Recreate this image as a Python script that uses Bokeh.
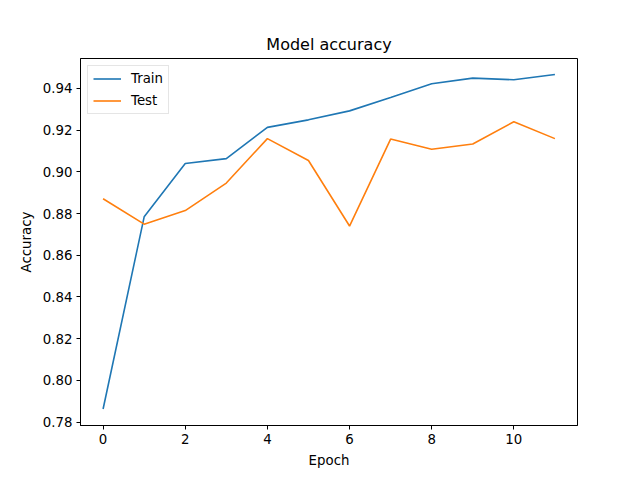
from bokeh.plotting import figure
from bokeh.models import Range1d, FixedTicker, Legend, LegendItem, NumeralTickFormatter
from bokeh.embed import file_html
from bokeh.resources import INLINE

epochs = list(range(12))
train_acc = [0.7863, 0.8784, 0.9040, 0.9063, 0.9213, 0.9249, 0.9292, 0.9356, 0.9422, 0.9449, 0.9441, 0.9466]
test_acc = [0.8871, 0.8749, 0.8814, 0.8946, 0.9159, 0.9054, 0.8740, 0.9157, 0.9108, 0.9133, 0.9240, 0.9159]
x_ticks = [0, 2, 4, 6, 8, 10]
y_ticks = [0.78, 0.80, 0.82, 0.84, 0.86, 0.88, 0.90, 0.92, 0.94]

FONT = "DejaVu Sans"
FS = "13.33px"

p = figure(width=624, height=470, output_backend="svg", toolbar_location=None,
           x_range=Range1d(-0.55, 11.55), y_range=Range1d(0.7784, 0.9543),
           min_border_left=80, min_border_right=47, min_border_top=58, min_border_bottom=43,
           title="Model accuracy")
p.title.align = "center"
p.title.text_font = FONT
p.title.text_font_size = "16px"
p.title.text_font_style = "normal"
p.title.text_color = "black"
p.title.standoff = 10

p.grid.visible = False
p.outline_line_color = "black"
p.outline_line_width = 1
p.outline_line_alpha = 1.0
p.background_fill_color = "white"
p.border_fill_color = "white"

for ax in (p.xaxis[0], p.yaxis[0]):
    ax.axis_line_color = "black"
    ax.major_tick_line_color = "black"
    ax.major_tick_in = 0
    ax.major_tick_out = 4
    ax.minor_tick_line_color = None
    ax.major_label_text_font = FONT
    ax.major_label_text_font_size = FS
    ax.major_label_text_color = "black"
    ax.axis_label_text_font = FONT
    ax.axis_label_text_font_size = FS
    ax.axis_label_text_font_style = "normal"
    ax.axis_label_text_color = "black"
    ax.major_label_standoff = 4
    ax.axis_label_standoff = 6

p.xaxis[0].ticker = FixedTicker(ticks=x_ticks)
p.yaxis[0].ticker = FixedTicker(ticks=y_ticks)
p.yaxis[0].formatter = NumeralTickFormatter(format="0.00")
p.xaxis[0].axis_label = "Epoch"
p.yaxis[0].axis_label = "Accuracy"

r1 = p.line(epochs, train_acc, line_color="#1f77b4", line_width=1.6)
r2 = p.line(epochs, test_acc, line_color="#ff7f0e", line_width=1.6)

legend = Legend(items=[LegendItem(label="Train", renderers=[r1]),
                       LegendItem(label="Test", renderers=[r2])],
                location="top_left")
legend.margin = 7
legend.padding = 5
legend.spacing = 7
legend.glyph_width = 28
legend.glyph_height = 13
legend.label_height = 13
legend.label_standoff = 10
legend.label_text_font = FONT
legend.label_text_font_size = FS
legend.label_text_color = "black"
legend.border_line_color = "#cccccc"
legend.border_line_width = 1
legend.background_fill_alpha = 0.8
p.add_layout(legend)

open("out.html", "w").write(file_html(p, INLINE))
